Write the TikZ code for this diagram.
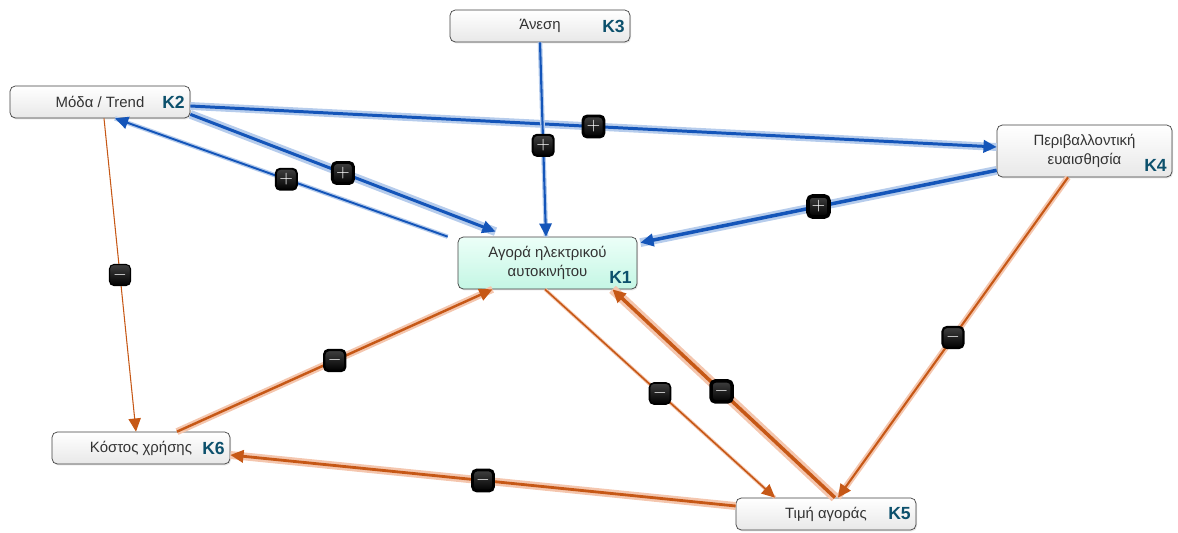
\documentclass[tikz,border=0pt]{standalone}
\usepackage{fontspec}
\setmainfont{Liberation Sans}
\usetikzlibrary{arrows.meta,shadows}

\definecolor{posblue}{RGB}{20,85,185}
\definecolor{posglow}{RGB}{182,204,236}
\definecolor{negorange}{RGB}{198,88,22}
\definecolor{negglow}{RGB}{244,198,174}
\definecolor{kteal}{RGB}{12,80,108}
\definecolor{mintA}{RGB}{236,255,248}
\definecolor{mintB}{RGB}{196,246,228}

\begin{document}
\begin{tikzpicture}[
    x=0.02cm, y=-0.02cm,
    factor/.style={rectangle, rounded corners=3pt, draw=black!75, thin, top color=white, bottom color=black!9, minimum width=3.6cm, minimum height=0.64cm, align=center, text=black!80, font=\fontsize{8.5}{11}\selectfont, drop shadow={shadow xshift=0.6pt, shadow yshift=-0.8pt, opacity=0.2}},
    tall/.style={minimum height=1.04cm},
    mainfactor/.style={top color=mintA, bottom color=mintB},
    klab/.style={text=kteal, font=\fontsize{10}{12}\selectfont\bfseries, inner sep=3pt},
    sign/.style={rectangle, rounded corners=2.5pt, top color=black!75, bottom color=black, draw=black, text=white, minimum size=0.42cm, inner sep=0pt, font=\bfseries},
    plusarrow/.style={draw=posblue, ->, >={Triangle[length=7.5pt,width=7pt]}},
    minusarrow/.style={draw=negorange, ->, >={Triangle[length=7.5pt,width=7pt]}},
    bglow/.style={preaction={draw=posglow, line width=#1, arrows=-}},
    oglow/.style={preaction={draw=negglow, line width=#1, arrows=-}}
]
\useasboundingbox (0,0) rectangle (1178,533);

% Factors
\node[factor, label={[klab, anchor=east]east:K3}] (k3) at (540,26) {Άνεση};
\node[factor, label={[klab, anchor=east]east:K2}] (k2) at (100,102) {Μόδα / Trend};
\node[factor, tall, minimum width=3.5cm, label={[klab, anchor=south east]south east:K4}] (k4) at (1084.5,151) {Περιβαλλοντική\\ευαισθησία};
\node[factor, tall, mainfactor, minimum width=3.58cm, label={[klab, anchor=south east]south east:K1}] (k1) at (547.5,263) {Αγορά ηλεκτρικού\\αυτοκινήτου};
\node[factor, minimum width=3.56cm, label={[klab, anchor=east]east:K6}] (k6) at (141,448) {Κόστος χρήσης};
\node[factor, label={[klab, anchor=east]east:K5}] (k5) at (826,514) {Τιμή αγοράς};

% Positive links
\draw[plusarrow, line width=1.7pt, bglow=4.5pt] ([yshift=-0.08cm]k2.east) -- node[sign] (s1) {$+$} ([yshift=0.08cm]k4.west);
\draw[plusarrow, line width=1.1pt, bglow=2.6pt] ([xshift=-0.2cm]k1.north west) -- node[sign, pos=0.485] (s2) {$+$} ([xshift=0.3cm]k2.south);
\draw[plusarrow, line width=1.7pt, bglow=5pt] ([yshift=0.08cm]k2.south east) -- node[sign] (s3) {$+$} ([xshift=-1.04cm, yshift=0.1cm]k1.north);
\draw[plusarrow, line width=1.2pt, bglow=2.6pt] (k3.south) -- node[sign, pos=0.53] (s4) {$+$} ([xshift=-0.03cm]k1.north);
\draw[plusarrow, line width=2pt, bglow=5pt] ([yshift=0.14cm]k4.south west) -- node[sign] (s5) {$+$} ([xshift=0.06cm, yshift=-0.12cm]k1.north east);

% Negative links
\draw[minusarrow, line width=0.6pt] ([xshift=0.08cm]k2.south) -- node[sign] (s6) {$-$} ([xshift=-0.1cm]k6.north);
\draw[minusarrow, line width=1.4pt, oglow=4pt] ([xshift=0.72cm]k6.north) -- node[sign] (s7) {$-$} ([xshift=-1.1cm]k1.south);
\draw[minusarrow, line width=0.9pt, oglow=2pt] ([xshift=-0.05cm]k1.south) -- node[sign] (s8) {$-$} ([xshift=-1.02cm]k5.north);
\draw[minusarrow, line width=2pt, oglow=5.5pt] ([xshift=0.18cm]k5.north) -- node[sign, pos=0.51] (s9) {$-$} ([xshift=1.3cm]k1.south);
\draw[minusarrow, line width=1.2pt, oglow=3.5pt] ([xshift=-0.33cm]k4.south) -- node[sign] (s10) {$-$} ([xshift=0.24cm]k5.north);
\draw[minusarrow, line width=1.6pt, oglow=4.5pt] ([yshift=0.16cm]k5.west) -- node[sign] (s11) {$-$} ([yshift=-0.14cm]k6.east);
\end{tikzpicture}
\end{document}
